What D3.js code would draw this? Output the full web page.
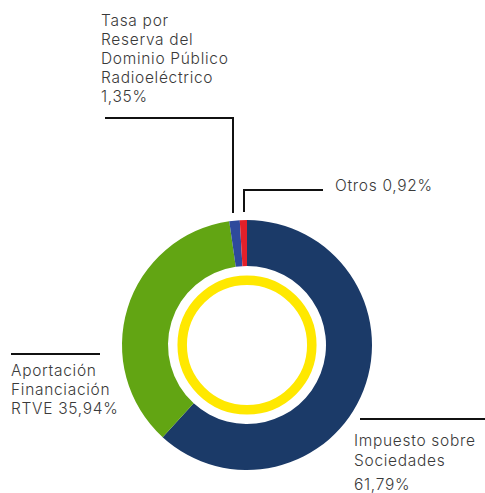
<!DOCTYPE html>
<html>
<head>
<meta charset="utf-8">
<script src="https://cdn.jsdelivr.net/npm/d3@7"></script>
<style>
  html, body { margin: 0; padding: 0; background: #fff; }
  svg text { font-family: Inter, "Open Sans", sans-serif; font-weight: 300; fill: #3a3a3a; font-size: 15.5px; letter-spacing: 0.7px; }
</style>
</head>
<body>
<svg id="chart" width="485" height="493"></svg>
<script>
// Revenue sources, in percent, clockwise from 12 o'clock
const categories = ["Impuesto sobre Sociedades", "Aportación Financiación RTVE", "Tasa por Reserva del Dominio Público Radioeléctrico", "Otros"];
const values = [61.79, 35.94, 1.35, 0.92];
const colors = ["#1b3a68", "#62a513", "#2e4a9c", "#e3202a"];
const valueLabels = ["61,79%", "35,94%", "1,35%", "0,92%"];

const svg = d3.select("#chart");
const cx = 247, cy = 345;
const outerR = 125, innerR = 79;

const pie = d3.pie().sort(null).value(d => d)(values);
const arc = d3.arc().innerRadius(innerR).outerRadius(outerR);

const g = svg.append("g").attr("transform", `translate(${cx},${cy})`);
g.selectAll("path.slice")
  .data(pie)
  .join("path")
  .attr("class", "slice")
  .attr("d", arc)
  .attr("fill", (d, i) => colors[i]);

// Decorative yellow ring inside the hole
g.append("circle")
  .attr("r", 64.8)
  .attr("fill", "none")
  .attr("stroke", "#ffe800")
  .attr("stroke-width", 9.5);

// Leader lines
const lines = svg.append("g").attr("fill", "none").attr("stroke", "#111").attr("stroke-width", 2);
lines.append("polyline").attr("points", "105,118 233,118 233,213");
lines.append("polyline").attr("points", "323,190 244,190 244,212");
lines.append("line").attr("x1", 11).attr("x2", 100).attr("y1", 354).attr("y2", 354);
lines.append("line").attr("x1", 360).attr("x2", 485).attr("y1", 419).attr("y2", 419);

// Text labels
function block(x, y, rows, lh) {
  const t = svg.append("text").attr("x", x).attr("y", y);
  rows.forEach((r, i) => {
    const dy = Array.isArray(lh) ? lh[i] : (i === 0 ? 0 : lh);
    t.append("tspan").attr("x", x).attr("dy", dy).text(r);
  });
}
block(101, 26, ["Tasa por", "Reserva del", "Dominio Público", "Radioeléctrico", valueLabels[2]], 19);
block(335, 191, ["Otros " + valueLabels[3]], 19);
block(11, 376, ["Aportación", "Financiación", "RTVE " + valueLabels[1]], 19);
block(354, 446, ["Impuesto sobre", "Sociedades", valueLabels[0]], [0, 19.5, 24.5]);
</script>
</body>
</html>
